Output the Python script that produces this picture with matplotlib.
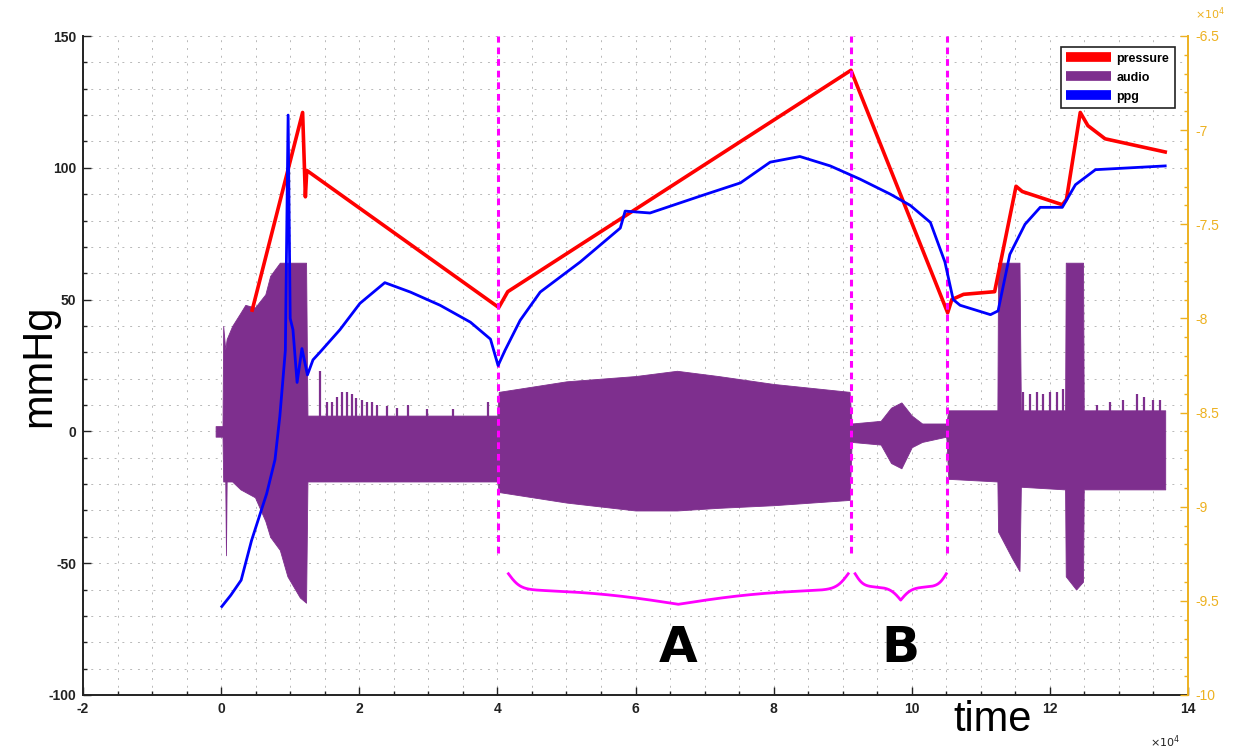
import numpy as np
import matplotlib
matplotlib.use("Agg")
import matplotlib.pyplot as plt
from matplotlib.lines import Line2D
from matplotlib.ticker import MultipleLocator, FuncFormatter

plt.rcParams['font.family'] = ['Liberation Sans', 'DejaVu Sans']
plt.rcParams['axes.unicode_minus'] = False

colors = {
    "pressure": "#FF0000",
    "audio":    "#7E2F8E",
    "ppg":      "#0000FF",
    "marker":   "#FF00FF",
    "right":    "#EDB120",
    "grid":     "#B8B8B8",
}

# pressure (mmHg) vs time (samples)
p_t = [4500, 11800, 12200, 12400, 40200, 41500, 91200, 105200, 105800,
       107500, 112000, 115100, 116000, 121800, 122400, 124400, 125500,
       128000, 136700]
p_v = [46, 121, 89, 99, 47, 53, 137, 45, 50, 52, 53, 93, 91, 86, 88, 121,
       116, 111, 106]

# audio envelope (mmHg scale)
a_t = [-800, 200, 300, 600, 700, 800, 1600, 2800, 3500, 4900, 6400, 7100,
       8500, 9600, 11400, 12300, 12500, 20000, 30000, 40000, 40200,
       50000, 60000, 66000, 72000, 80000, 91000, 91300, 95500, 97000, 98500,
       100000, 101500, 105000, 105300, 112400, 112500, 114500, 115600,
       115800, 122200, 122300, 123800, 124800, 124900, 130000, 136700]
a_hi = [2, 2, 40, 31, 33, 35, 40, 45, 48, 47, 52, 59, 64, 64, 64, 64, 6,
        6, 6, 6, 15, 19, 21, 23, 21, 18, 15, 3, 4, 9, 11, 6, 3, 3, 8, 8, 64,
        64, 64, 8, 8, 64, 64, 64, 8, 8, 8]
a_lo = [-2, -2, -19, -19, -47, -19, -19, -22, -23, -25, -34, -40, -45, -55,
        -63, -65, -19, -19, -19, -19, -23, -27, -30, -30, -29, -28, -26,
        -4, -5, -12, -14, -6, -4, -2, -18, -19, -38, -48, -53, -21, -22, -55,
        -60, -57, -22, -22, -22]

# heartbeat spikes on top of the audio envelope
spk_t = [14300, 15300, 16000, 16800, 17500, 18200, 18900, 19600, 20400,
         21100, 21800, 22500, 24000, 25400, 27100, 29800, 33600, 38700,
         116100, 117100, 118100, 119000, 120000, 121000, 121900, 126800,
         128700, 130600, 132600, 133600, 135000, 136000]
spk_v = [23, 11, 11, 13, 15, 15, 14, 12.5, 12, 11, 11, 10, 9.5, 9, 10, 8.5,
         8.5, 11, 15, 14, 15, 14, 15, 15, 16, 10, 11, 12, 14, 13, 12, 12]

# ppg (right axis, raw units)
g_t = [100, 1400, 2900, 4400, 6600, 7800, 8500, 9300, 9700, 10000, 10400,
       11000, 11700, 12500, 13300, 14300, 17200, 20100, 23700, 27400, 31700,
       36100, 39000, 40100, 41100, 43300, 46200, 52000, 57800, 58500, 62100,
       69400, 75200, 79500, 83800, 88200, 92500, 96900, 99800, 102700,
       104800, 106000, 107000, 111400, 112500, 114200, 116400, 118600,
       121800, 123700, 126600, 136700]
g_v = [-95300, -94700, -93900, -91800, -89300, -87500, -85200, -81700,
       -69200, -80000, -80600, -83400, -81600, -83000, -82200, -81800,
       -80600, -79200, -78100, -78600, -79300, -80200, -81100, -82500,
       -81700, -80100, -78600, -77000, -75200, -74300, -74400, -73500,
       -72800, -71700, -71400, -71900, -72600, -73400, -74000, -74900,
       -77000, -79000, -79300, -79800, -79600, -76600, -75000, -74100,
       -74100, -72900, -72100, -71900]

markers = [40100, 91200, 105100]
segments = [("A", 41600, 90800, -54, 12, 0.035, 0.30),
            ("B", 91800, 105000, -54, 10, 0.09, 0.12)]

fig = plt.figure(figsize=(12.41, 7.51), dpi=100)
ax = fig.add_axes([83 / 1241, 1 - 695 / 751, 1105 / 1241, 659 / 751])

ax.fill_between(a_t, a_lo, a_hi, color=colors["audio"], lw=0.6,
                edgecolor=colors["audio"], zorder=2)
ax.vlines(spk_t, 0, spk_v, color=colors["audio"], lw=1.6, zorder=2)
ax.plot(p_t, p_v, color=colors["pressure"], lw=2.6, zorder=4)

for xm in markers:
    ax.plot([xm, xm], [-46, 150], color=colors["marker"], lw=2.2,
            ls=(0, (2.2, 1.6)), zorder=5)


def brace(x0, x1, y_end, depth, w_end, w_mid):
    half = (x1 - x0) / 2
    u = np.linspace(0, 1, 300)
    f = 1 / (1 + np.exp(-u / w_end)) + 1 / (1 + np.exp(-(u - 1) / w_mid))
    f = f - f[0] + 0.5
    ys = y_end - (f - 0.5) * depth
    xs = x0 + u * half
    xs = np.concatenate([xs, x1 - u[::-1] * half])
    ys = np.concatenate([ys, ys[::-1]])
    ax.plot(xs, ys, color=colors["marker"], lw=2.0, zorder=5)


for lab, x0, x1, y_end, depth, we, wm in segments:
    brace(x0, x1, y_end, depth, we, wm)
    ax.text((x0 + x1) / 2, -82, lab, fontsize=36, fontweight="bold",
            ha="center", va="center", family="DejaVu Sans")

ax.set_xlim(-20000, 140000)
ax.set_ylim(-100, 150)
ax.xaxis.set_major_locator(MultipleLocator(20000))
ax.xaxis.set_minor_locator(MultipleLocator(5000))
ax.yaxis.set_major_locator(MultipleLocator(50))
ax.yaxis.set_minor_locator(MultipleLocator(10))
ax.xaxis.set_major_formatter(FuncFormatter(lambda v, _: f"{v / 1e4:g}"))
ax.yaxis.set_major_formatter(FuncFormatter(lambda v, _: f"{v:g}"))
ax.grid(which="both", color=colors["grid"], ls=(0, (2, 6)), lw=0.7)
ax.set_axisbelow(True)
ax.tick_params(which="both", direction="in", labelsize=10, colors="#222222",
               width=1.0)
ax.tick_params(which="major", length=6, pad=5)
ax.tick_params(which="minor", length=3)
for t in ax.get_xticklabels() + ax.get_yticklabels():
    t.set_fontweight("bold")
ax.spines["top"].set_visible(False)
ax.spines["right"].set_visible(False)
for s in ("left", "bottom"):
    ax.spines[s].set_linewidth(1.4)
    ax.spines[s].set_color("#222222")

ax2 = ax.twinx()
ax2.plot(g_t, g_v, color=colors["ppg"], lw=2.0, zorder=3)
ax2.set_ylim(-100000, -65000)
ax2.yaxis.set_major_locator(MultipleLocator(5000))
ax2.yaxis.set_minor_locator(MultipleLocator(1000))
ax2.yaxis.set_major_formatter(FuncFormatter(lambda v, _: f"{v / 1e4:g}"))
ax2.tick_params(which="both", direction="in", colors=colors["right"],
                labelsize=10, width=1.0)
ax2.tick_params(which="major", length=6, pad=5)
ax2.tick_params(which="minor", length=3)
for s in ("top", "left", "bottom"):
    ax2.spines[s].set_visible(False)
ax2.spines["right"].set_color(colors["right"])
ax2.spines["right"].set_linewidth(1.4)

handles = [Line2D([], [], color=c, lw=7, solid_capstyle="butt")
           for c in (colors["pressure"], colors["audio"], colors["ppg"])]
leg = ax2.legend(handles, ["pressure", "audio", "ppg"], loc="upper right",
                 bbox_to_anchor=(0.988, 0.983), fancybox=False,
                 framealpha=1, edgecolor="#222222", handlelength=3.6,
                 handletextpad=0.4, labelspacing=0.55, borderpad=0.45,
                 borderaxespad=0, prop={"size": 9, "weight": "bold"})
leg.get_frame().set_linewidth(1.2)

ax.text(-0.04, 0.5, "mmHg", transform=ax.transAxes, rotation=90,
        fontsize=30, ha="center", va="center")
fig.text(993 / 1241, 1 - 720 / 751, "time", fontsize=30, ha="center",
         va="center")
fig.text(1165 / 1241, 1 - 742 / 751, r"$\times 10^4$", fontsize=8,
         ha="center", va="center", color="#222222")
fig.text(1210 / 1241, 1 - 14 / 751, r"$\times 10^4$", fontsize=8,
         ha="center", va="center", color=colors["right"])

fig.savefig("out.png", dpi=100)
